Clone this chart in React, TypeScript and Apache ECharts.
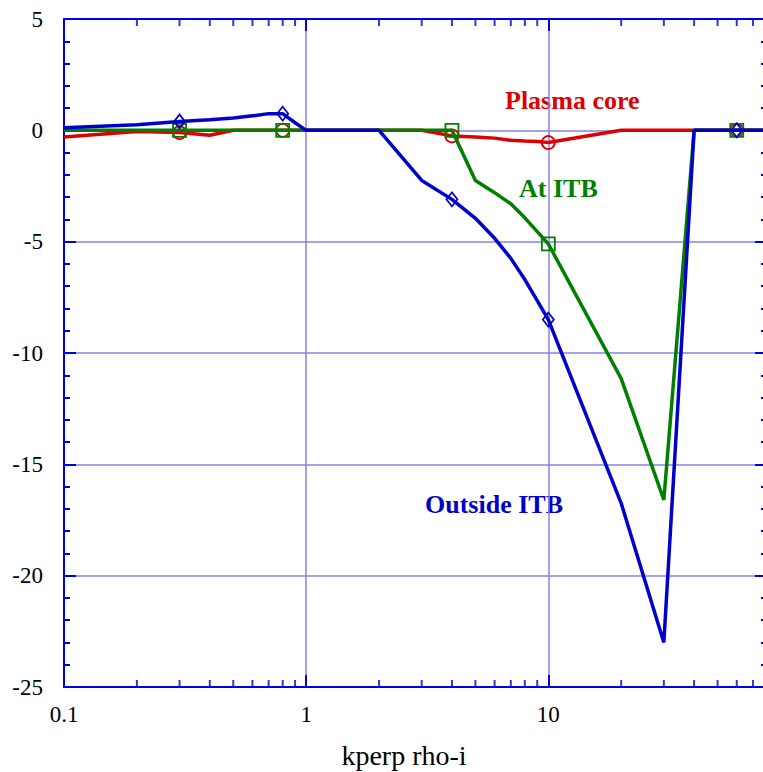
import React, { useEffect, useRef } from "react";
import * as echarts from "echarts";

// x positions (kperp rho-i) shared by all three curves
const kValues = [0.1, 0.2, 0.3, 0.4, 0.5, 0.6, 0.7, 0.8, 0.9, 1, 2, 3, 4, 5, 6, 7, 8, 9, 10, 20, 30, 40, 50, 60, 70, 80];
const plasmaCore = [-0.3, -0.05, -0.1, -0.22, 0, 0, 0, 0, 0, 0, 0, 0, -0.25, -0.3, -0.35, -0.45, -0.48, -0.5, -0.55, 0, 0, 0, 0, 0, 0, 0];
const atITB = [0, 0, 0, 0, 0, 0, 0, 0, 0, 0, 0, 0, 0, -2.25, -2.8, -3.3, -3.93, -4.55, -5.1, -11.15, -16.6, 0, 0, 0, 0, 0];
const outsideITB = [0.12, 0.25, 0.4, 0.48, 0.55, 0.65, 0.75, 0.75, 0.34, 0, 0, -2.25, -3.1, -3.95, -4.85, -5.75, -6.7, -7.65, -8.5, -16.75, -23, 0, 0, 0, 0, 0];
const markerK = [0.3, 0.8, 4, 10, 60];

const xMin = 0.1;
const xMax = 80;
const yMin = -25;
const yMax = 5;
const yStep = 5;
const minorXTicks = [0.2, 0.3, 0.4, 0.5, 0.6, 0.7, 0.8, 0.9, 2, 3, 4, 5, 6, 7, 8, 9, 20, 30, 40, 50, 60, 70];

const seriesNames = ["Plasma core", "At ITB", "Outside ITB"];
const xTitle = "kperp rho-i";

const RED = "#dd0000";
const GREEN = "#007f00";
const BLUE = "#0000cc";
const FRAME = "#0000dd";
const GRID = "#8585e6";
const FONT = "Liberation Serif";

function buildData(values: number[], symbol: string) {
  return kValues.map((k, i) => ({
    value: [k, values[i]],
    symbol: markerK.includes(k) ? symbol : "none",
  }));
}

export default function App() {
  const ref = useRef<HTMLDivElement>(null);
  useEffect(() => {
    if (!ref.current) return;
    const chart = echarts.init(ref.current, null, { renderer: "svg" });
    const axisCommon = {
      type: "log" as const,
      logBase: 10,
      min: xMin,
      max: xMax,
      axisLine: { show: true, onZero: false, lineStyle: { color: FRAME, width: 2 } },
      axisTick: { show: true, inside: true, length: 12, lineStyle: { color: FRAME, width: 2 } },
    };
    const yCommon = {
      type: "value" as const,
      min: yMin,
      max: yMax,
      interval: yStep,
      axisLine: { show: true, onZero: false, lineStyle: { color: FRAME, width: 2 } },
      axisTick: { show: true, inside: true, length: 12, lineStyle: { color: FRAME, width: 2 } },
      minorTick: { show: true, splitNumber: 5, length: 6, lineStyle: { color: FRAME, width: 2 } },
    };
    const lineSeries = (name: string, vals: number[], color: string, symbol: string, size: any, z: number) => ({
      type: "line",
      name,
      data: buildData(vals, symbol),
      showSymbol: true,
      symbolSize: size,
      lineStyle: { color, width: 3.5 },
      itemStyle: { color: "rgba(0,0,0,0)", borderColor: color, borderWidth: 1.8 },
      emphasis: { disabled: true },
      silent: true,
      z,
    });
    const textStyle = (color: string, size: number, weight: string) => ({
      fill: color,
      fontFamily: FONT,
      fontSize: size,
      fontWeight: weight,
      verticalAlign: "middle",
    });
    chart.setOption({
      animation: false,
      grid: { left: 64, top: 19, right: 0, bottom: 85, containLabel: false },
      xAxis: [
        {
          ...axisCommon,
          position: "bottom",
          axisLabel: {
            show: true,
            color: "#000",
            fontFamily: FONT,
            fontSize: 23,
            margin: 16,
            showMaxLabel: false,
            formatter: (v: number) => String(v),
          },
          splitLine: { show: true, lineStyle: { color: GRID, width: 1.5 } },
        },
        {
          ...axisCommon,
          position: "top",
          axisLabel: { show: false },
          splitLine: { show: false },
        },
      ],
      yAxis: [
        {
          ...yCommon,
          position: "left",
          axisLabel: { show: true, color: "#000", fontFamily: FONT, fontSize: 23, margin: 21 },
          splitLine: { show: true, lineStyle: { color: GRID, width: 1.5 } },
        },
        {
          ...yCommon,
          position: "right",
          axisLabel: { show: false },
          splitLine: { show: false },
        },
      ],
      series: [
        {
          type: "scatter",
          data: minorXTicks.map((k) => [k, yMin]),
          symbol: "rect",
          symbolSize: [2, 7],
          symbolOffset: [0, -3.5],
          itemStyle: { color: FRAME },
          clip: false,
          silent: true,
          z: 1,
        },
        {
          type: "scatter",
          data: minorXTicks.map((k) => [k, yMax]),
          symbol: "rect",
          symbolSize: [2, 7],
          symbolOffset: [0, 3.5],
          itemStyle: { color: FRAME },
          clip: false,
          silent: true,
          z: 1,
        },
        lineSeries(seriesNames[0], plasmaCore, RED, "circle", 13, 3),
        lineSeries(seriesNames[1], atITB, GREEN, "rect", 13, 4),
        lineSeries(seriesNames[2], outsideITB, BLUE, "diamond", [11, 14], 5),
      ],
      graphic: [
        { type: "text", x: 505, y: 100, style: { text: seriesNames[0], ...textStyle(RED, 26, "bold") } },
        { type: "text", x: 519, y: 188, style: { text: seriesNames[1], ...textStyle(GREEN, 26, "bold") } },
        { type: "text", x: 425, y: 504, style: { text: seriesNames[2], ...textStyle(BLUE, 26, "bold") } },
        {
          type: "text",
          x: 404,
          y: 755,
          style: { text: xTitle, ...textStyle("#000", 28, "normal"), align: "center" },
        },
      ],
    });
    return () => chart.dispose();
  }, []);
  return (
    <div
      ref={ref}
      style={{ position: "fixed", left: 0, top: 0, width: 767, height: 772, background: "#fff" }}
    />
  );
}
